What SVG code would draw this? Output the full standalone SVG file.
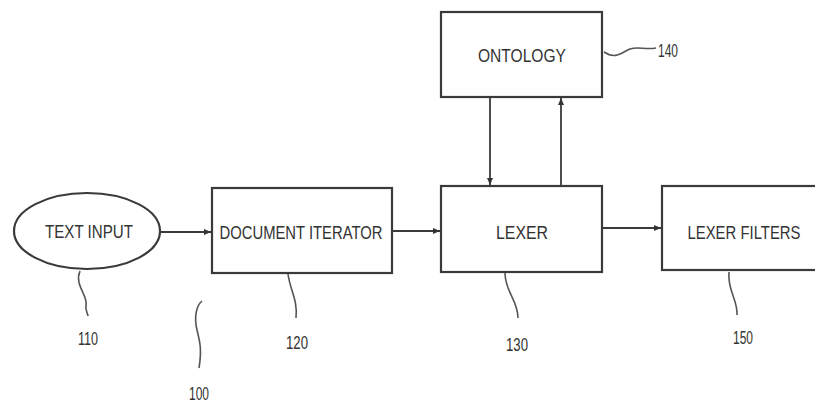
<svg xmlns="http://www.w3.org/2000/svg" width="815" height="411" viewBox="0 0 815 411">
<defs>
<marker id="ah" markerWidth="8" markerHeight="8" refX="7" refY="4" orient="auto" markerUnits="userSpaceOnUse">
<path d="M0,1 L7,4 L0,7 Z" fill="#333"/>
</marker>
<style>
.box{fill:#fff;stroke:#3a3a3a;stroke-width:2.2}
.lbl{font-family:"Liberation Sans",Arial,sans-serif;font-size:18px;fill:#333;text-anchor:middle}
.num{font-family:"Liberation Sans",Arial,sans-serif;font-size:18px;fill:#333;text-anchor:middle}
.ln{fill:none;stroke:#3a3a3a;stroke-width:1.8}
.ld{fill:none;stroke:#555;stroke-width:1.6}
</style>
</defs>
<rect width="815" height="411" fill="#fff"/>
<g id="n110">
<ellipse class="box" cx="87" cy="231" rx="73" ry="38"/>
<text class="lbl" x="89" y="238" textLength="88" lengthAdjust="spacingAndGlyphs">TEXT INPUT</text>
<path class="ld" d="M80,271 C74,285 88,295 86,305 C85,311 88,314 88,316"/>
<text class="num" x="88" y="345" textLength="20" lengthAdjust="spacingAndGlyphs">110</text>
</g>
<g id="n100">
<path class="ld" d="M202,301 C196,306 194,318 197,330 C200,342 202,350 199,368"/>
<text class="num" x="199" y="400" textLength="20" lengthAdjust="spacingAndGlyphs">100</text>
</g>
<g id="n120">
<rect class="box" x="212" y="188" width="180" height="85"/>
<text class="lbl" x="301" y="239" textLength="163" lengthAdjust="spacingAndGlyphs">DOCUMENT ITERATOR</text>
<path class="ld" d="M288,274 C290,290 298,300 296,318"/>
<text class="num" x="297" y="349" textLength="22" lengthAdjust="spacingAndGlyphs">120</text>
</g>
<g id="n130">
<rect class="box" x="441" y="186" width="161" height="86"/>
<text class="lbl" x="522" y="239" textLength="52" lengthAdjust="spacingAndGlyphs">LEXER</text>
<path class="ld" d="M505,273 C505,292 518,300 518,318"/>
<text class="num" x="517" y="351" textLength="22" lengthAdjust="spacingAndGlyphs">130</text>
</g>
<g id="n140">
<rect class="box" x="441" y="12" width="161" height="85"/>
<text class="lbl" x="522" y="62" textLength="88" lengthAdjust="spacingAndGlyphs">ONTOLOGY</text>
<path class="ld" d="M604,52 C616,60 622,52 630,49 C638,46 645,50 656,48"/>
<text class="num" x="668" y="57" textLength="20" lengthAdjust="spacingAndGlyphs">140</text>
</g>
<g id="n150">
<rect class="box" x="662" y="186" width="160" height="84"/>
<text class="lbl" x="744" y="239" textLength="113" lengthAdjust="spacingAndGlyphs">LEXER FILTERS</text>
<path class="ld" d="M729,272 C727,290 738,300 737,315"/>
<text class="num" x="743" y="344" textLength="20" lengthAdjust="spacingAndGlyphs">150</text>
</g>
<g id="connectors">
<line class="ln" x1="161" y1="232" x2="211" y2="232" marker-end="url(#ah)"/>
<line class="ln" x1="392" y1="231" x2="440" y2="231" marker-end="url(#ah)"/>
<line class="ln" x1="602" y1="228" x2="661" y2="228" marker-end="url(#ah)"/>
<line class="ln" x1="490" y1="97" x2="490" y2="185" marker-end="url(#ah)"/>
<line class="ln" x1="561" y1="186" x2="561" y2="98" marker-end="url(#ah)"/>
</g>
</svg>
